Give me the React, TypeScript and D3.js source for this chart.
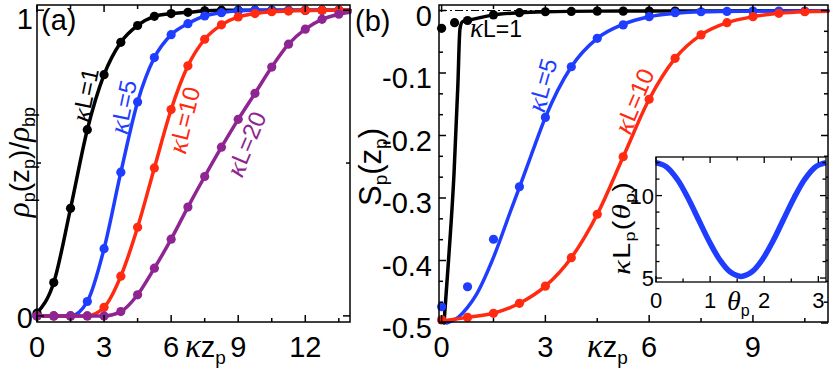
import React from 'react';
import * as d3 from 'd3';

// ---------- data: panel (a) ----------
const zA = [0, 0.75, 1.5, 2.25, 3, 3.75, 4.5, 5.25, 6, 6.75, 7.5, 8.25, 9, 9.75, 10.5, 11.25, 12, 12.75, 13.5];
const rhoK1 = [0.009, 0.109, 0.352, 0.609, 0.789, 0.895, 0.95, 0.98, 0.989, 0.993, 0.998, 1.0, 1.0, 1.0, 1.0, 1.0, 1.0, 1.0, 1.0];
const rhoK5 = [0, 0, 0, 0.047, 0.22, 0.47, 0.7, 0.845, 0.92, 0.956, 0.981, 0.992, 0.998, 1.0, 1.0, 1.0, 1.0, 1.0, 1.0];
const rhoK10 = [0, 0, 0, 0, 0.028, 0.13, 0.29, 0.484, 0.675, 0.818, 0.905, 0.952, 0.978, 0.989, 0.995, 0.997, 0.999, 1.0, 1.0];
const rhoK20 = [0, 0, 0, 0, 0, 0.014, 0.069, 0.156, 0.251, 0.356, 0.456, 0.552, 0.643, 0.728, 0.814, 0.889, 0.938, 0.97, 0.987];
// where the curves of (a) meet the right frame (z = 14)
const zEndA = 14;
const rhoEndA = [1.0, 1.0, 1.0, 0.993];

// ---------- data: panel (b) ----------
const zB = [0, 0.75, 1.5, 2.25, 3, 3.75, 4.5, 5.25, 6, 6.75, 7.5, 8.25, 9, 9.75, 10.5];
const zBk1 = [0, 0.375, 0.75, 1.5, 2.25, 3, 3.75, 4.5, 5.25, 6, 6.75];
const sK1 = [-0.0285, -0.0195, -0.016, -0.007, -0.0035, -0.002, -0.0015, -0.001, -0.001, -0.0008, -0.0008];
const sK5 = [-0.474, -0.442, -0.366, -0.282, -0.171, -0.09, -0.0445, -0.023, -0.0099, -0.0035, -0.002, -0.0015, -0.001, -0.001, -0.001];
const sK10 = [-0.495, -0.491, -0.4845, -0.4685, -0.441, -0.3955, -0.326, -0.234, -0.142, -0.0765, -0.039, -0.0195, -0.0099, -0.0045, -0.002];

// theory curves of panel (b)
const lineK1Z = [0.07, 0.2, 0.36, 0.47, 0.53, 0.6, 0.75, 1.5, 2.25, 3, 4.5, 6, 8, 11.17];
const lineK1S = [-0.5, -0.4, -0.26, -0.12, -0.03, -0.018, -0.016, -0.007, -0.0035, -0.002, -0.001, -0.0008, -0.0006, -0.0005];
const lineK5Z = [0.15, 0.5, 0.75, 1.0, 1.5, 2.0, 2.25, 2.6, 3, 3.75, 4.5, 5.25, 6, 6.75, 7.5, 9, 11.17];
const lineK5S = [-0.5, -0.49, -0.475, -0.455, -0.395, -0.32, -0.283, -0.23, -0.171, -0.09, -0.0445, -0.022, -0.0099, -0.0045, -0.002, -0.001, -0.0005];
const lineK10Z = [0, 0.75, 1.5, 2.25, 3, 3.75, 4.5, 5.25, 6, 6.75, 7.5, 8.25, 9, 9.75, 10.5, 11.17];
const lineK10S = [-0.497, -0.491, -0.4845, -0.4685, -0.441, -0.3955, -0.326, -0.234, -0.142, -0.0765, -0.039, -0.0195, -0.0099, -0.0045, -0.002, -0.0012];

// ---------- data: inset ----------
const theta = [0, 0.196, 0.393, 0.589, 0.785, 0.982, 1.178, 1.374, 1.571, 1.767, 1.963, 2.16, 2.356, 2.553, 2.749, 2.945, 3.1416];
const kLp = [12.0, 11.74, 10.99, 9.87, 8.55, 7.23, 6.11, 5.36, 5.1, 5.36, 6.11, 7.23, 8.55, 9.87, 10.99, 11.74, 12.0];

// ticks
const xTicksA = [0, 3, 6, 9, 12];
const xMinorA = [1.5, 4.5, 7.5, 10.5, 13.5];
const yTicksA = [0, 1];
const yMinorA = [0.5];
const xTicksB = [0, 3, 6, 9];
const xMinorB = [1.5, 4.5, 7.5, 10.5];
const yTicksB = [0, -0.1, -0.2, -0.3, -0.4, -0.5];
const yLabelsB = ['0', '-0.1', '-0.2', '-0.3', '-0.4', '-0.5'];
const yMinorB = [-0.0333, -0.0667, -0.1333, -0.1667, -0.2333, -0.2667, -0.3333, -0.3667, -0.4333, -0.4667];
const xTicksI = [0, 1, 2, 3];
const xMinorI = [0.5, 1.5, 2.5];
const yTicksI = [5, 10];
const yMinorI = [6, 7, 8, 9, 11, 12];

const BLACK = '#000000';
const BLUE = '#1f3dff';
const RED = '#ff2a10';
const PURPLE = '#8e2592';

const SANS = 'Liberation Sans, Arial, Helvetica, sans-serif';
const SERIF = 'Liberation Serif, Times New Roman, serif';

type Scale = d3.ScaleLinear<number, number>;

function Frame({ x, y, xMaj, xMin, yMaj, yMin, maj, min, sw = 1.5 }: {
  x: Scale; y: Scale; xMaj: number[]; xMin: number[]; yMaj: number[]; yMin: number[]; maj: number; min: number; sw?: number;
}) {
  const [x0, x1] = x.range();
  const [y0, y1] = y.range();
  const lines: JSX.Element[] = [];
  const addX = (v: number, len: number, k: string) => {
    const px = x(v);
    lines.push(<line key={'xb' + k} x1={px} x2={px} y1={y0} y2={y0 - len} />);
    lines.push(<line key={'xt' + k} x1={px} x2={px} y1={y1} y2={y1 + len} />);
  };
  const addY = (v: number, len: number, k: string) => {
    const py = y(v);
    lines.push(<line key={'yl' + k} x1={x0} x2={x0 + len} y1={py} y2={py} />);
    lines.push(<line key={'yr' + k} x1={x1} x2={x1 - len} y1={py} y2={py} />);
  };
  xMaj.forEach((v, i) => addX(v, maj, 'M' + i));
  xMin.forEach((v, i) => addX(v, min, 'm' + i));
  yMaj.forEach((v, i) => addY(v, maj, 'M' + i));
  yMin.forEach((v, i) => addY(v, min, 'm' + i));
  return (
    <g stroke="#000" strokeWidth={sw} fill="none">
      <rect x={x0} y={y1} width={x1 - x0} height={y0 - y1} />
      {lines}
    </g>
  );
}

function Series({ xs, ys, x, y, color, lx, ly, lw = 3.5, r = 4.6 }: {
  xs: number[]; ys: number[]; x: Scale; y: Scale; color: string; lx?: number[]; ly?: number[]; lw?: number; r?: number;
}) {
  const LX = lx || xs;
  const LY = ly || ys;
  const pts: [number, number][] = LX.map((v, i) => [v, LY[i]]);
  const path = d3.line<[number, number]>().x(d => x(d[0])).y(d => y(d[1])).curve(d3.curveMonotoneX)(pts) || '';
  return (
    <g>
      <path d={path} fill="none" stroke={color} strokeWidth={lw} strokeLinejoin="round" strokeLinecap="round" />
      {xs.map((v, i) => <circle key={i} cx={x(v)} cy={y(ys[i])} r={r} fill={color} />)}
    </g>
  );
}

function KLabel({ cx, cy, rot, color, n, size = 24 }: { cx: number; cy: number; rot: number; color: string; n: string; size?: number }) {
  return (
    <text transform={`translate(${cx},${cy}) rotate(${rot})`} textAnchor="middle" dominantBaseline="central"
      fill={color} fontFamily={SANS} fontSize={size}>
      <tspan fontFamily={SERIF} fontStyle="italic" fontSize={size + 4}>κ</tspan>L={n}
    </text>
  );
}

export default function App() {
  const xA = d3.scaleLinear().domain([0, 14]).range([37, 350]);
  const yA = d3.scaleLinear().domain([-0.02, 1.017]).range([322, 5]);
  const xB = d3.scaleLinear().domain([-0.075, 11.17]).range([439, 828]);
  const yB = d3.scaleLinear().domain([-0.4984, 0.0088]).range([322, 5]);
  const xI = d3.scaleLinear().domain([0, Math.PI]).range([656, 826]);
  const yI = d3.scaleLinear().domain([4.76, 12.34]).range([282, 157]);

  const insetPath = d3.line<number>().x((d, i) => xI(theta[i])).y(d => yI(d)).curve(d3.curveCatmullRom)(kLp) || '';

  const tickFont = 29;
  const seriesA = [rhoK1, rhoK5, rhoK10, rhoK20];
  const colorsA = [BLACK, BLUE, RED, PURPLE];

  return (
    <svg width={830} height={374} style={{ position: 'absolute', left: 0, top: 0, display: 'block', background: '#fff' }}
      xmlns="http://www.w3.org/2000/svg">
      <rect x={0} y={0} width={830} height={374} fill="#fff" />

      {/* ---------- panel (a) ---------- */}
      {seriesA.map((s, i) => (
        <Series key={i} xs={zA} ys={s} x={xA} y={yA} color={colorsA[i]}
          lx={[...zA, zEndA]} ly={[...s, rhoEndA[i]]} />
      ))}
      <Frame x={xA} y={yA} xMaj={xTicksA} xMin={xMinorA} yMaj={yTicksA} yMin={yMinorA} maj={7} min={4} />

      <g fontFamily={SANS} fontSize={tickFont} fill="#000">
        {xTicksA.map(v => <text key={v} x={xA(v)} y={357} textAnchor="middle">{v}</text>)}
        <text x={33} y={yA(1) + 19} textAnchor="end">1</text>
        <text x={33} y={yA(0) + 12} textAnchor="end">0</text>
        <text x={41} y={30}>(a)</text>
      </g>
      <text x={185} y={357} fontFamily={SANS} fontSize={tickFont}>
        <tspan fontFamily={SERIF} fontStyle="italic" fontSize={33}>κ</tspan>z<tspan fontSize={19} dy={7}>p</tspan>
      </text>
      <text transform="translate(29,162) rotate(-90)" textAnchor="middle" fontFamily={SANS} fontSize={28}>
        <tspan fontFamily={SERIF} fontStyle="italic" fontSize={31}>ρ</tspan><tspan fontSize={18} dy={6}>p</tspan><tspan dy={-6}>(z</tspan><tspan fontSize={18} dy={6}>p</tspan><tspan dy={-6}>)/</tspan><tspan fontFamily={SERIF} fontStyle="italic" fontSize={31}>ρ</tspan><tspan fontSize={18} dy={6}>bp</tspan>
      </text>
      <KLabel cx={85} cy={95} rot={-78} color={BLACK} n="1" />
      <KLabel cx={123} cy={107} rot={-78} color={BLUE} n="5" />
      <KLabel cx={184} cy={120} rot={-76} color={RED} n="10" />
      <KLabel cx={246} cy={144} rot={-67} color={PURPLE} n="20" />

      {/* ---------- panel (b) ---------- */}
      <line x1={xB(-0.075)} x2={xB(11.17)} y1={yB(0)} y2={yB(0)} stroke="#000" strokeWidth={1.2} strokeDasharray="8 3 2 3" />
      <Series xs={zBk1} ys={sK1} x={xB} y={yB} color={BLACK} lx={lineK1Z} ly={lineK1S} />
      <Series xs={zB} ys={sK5} x={xB} y={yB} color={BLUE} lx={lineK5Z} ly={lineK5S} />
      <Series xs={zB} ys={sK10} x={xB} y={yB} color={RED} lx={lineK10Z} ly={lineK10S} />
      <Frame x={xB} y={yB} xMaj={xTicksB} xMin={xMinorB} yMaj={yTicksB} yMin={yMinorB} maj={7} min={4} />

      <g fontFamily={SANS} fontSize={tickFont} fill="#000">
        {xTicksB.map(v => <text key={v} x={xB(v)} y={357} textAnchor="middle">{v}</text>)}
        {yTicksB.map((v, i) => <text key={v} x={432} y={yB(v) + 15} textAnchor="end">{yLabelsB[i]}</text>)}
        <text x={355} y={31}>(b)</text>
      </g>
      <text x={587} y={357} fontFamily={SANS} fontSize={tickFont}>
        <tspan fontFamily={SERIF} fontStyle="italic" fontSize={33}>κ</tspan>z<tspan fontSize={19} dy={7}>p</tspan>
      </text>
      <text transform="translate(381,167) rotate(-90)" textAnchor="middle" fontFamily={SANS} fontSize={31}>
        S<tspan fontSize={19} dy={6}>p</tspan><tspan dy={-6}>(z</tspan><tspan fontSize={19} dy={6}>p</tspan><tspan dy={-6}>)</tspan>
      </text>
      <text x={470} y={37} fontFamily={SANS} fontSize={23} fill={BLACK}>
        <tspan fontFamily={SERIF} fontStyle="italic" fontSize={27}>κ</tspan>L=1
      </text>
      <KLabel cx={542} cy={85} rot={-74} color={BLUE} n="5" />
      <KLabel cx={634} cy={101} rot={-67} color={RED} n="10" />

      {/* ---------- inset ---------- */}
      <rect x={656} y={157} width={170} height={125} fill="#fff" />
      <path d={insetPath} fill="none" stroke={BLUE} strokeWidth={5.5} />
      <Frame x={xI} y={yI} xMaj={xTicksI} xMin={xMinorI} yMaj={yTicksI} yMin={yMinorI} maj={6} min={3.5} sw={1.3} />
      <g fontFamily={SANS} fontSize={22} fill="#000">
        {xTicksI.map(v => <text key={v} x={xI(v)} y={308} textAnchor="middle">{v}</text>)}
        {yTicksI.map(v => <text key={v} x={654} y={yI(v) + 8} textAnchor="end">{v}</text>)}
      </g>
      <text x={727} y={310} fontFamily={SERIF} fontStyle="italic" fontSize={28}>
        θ<tspan fontFamily={SANS} fontStyle="normal" fontSize={16} dy={6}>p</tspan>
      </text>
      <text transform="translate(630,228) rotate(-90) scale(1.2,1)" textAnchor="middle" fontFamily={SANS} fontSize={24}
        letterSpacing={1}>
        <tspan fontFamily={SERIF} fontStyle="italic" fontSize={26}>κ</tspan>L<tspan fontSize={15} dy={5}>p</tspan><tspan dy={-5}>(</tspan><tspan fontFamily={SERIF} fontStyle="italic" fontSize={26}>θ</tspan><tspan fontSize={15} dy={5}>p</tspan><tspan dy={-5}>)</tspan>
      </text>
    </svg>
  );
}
